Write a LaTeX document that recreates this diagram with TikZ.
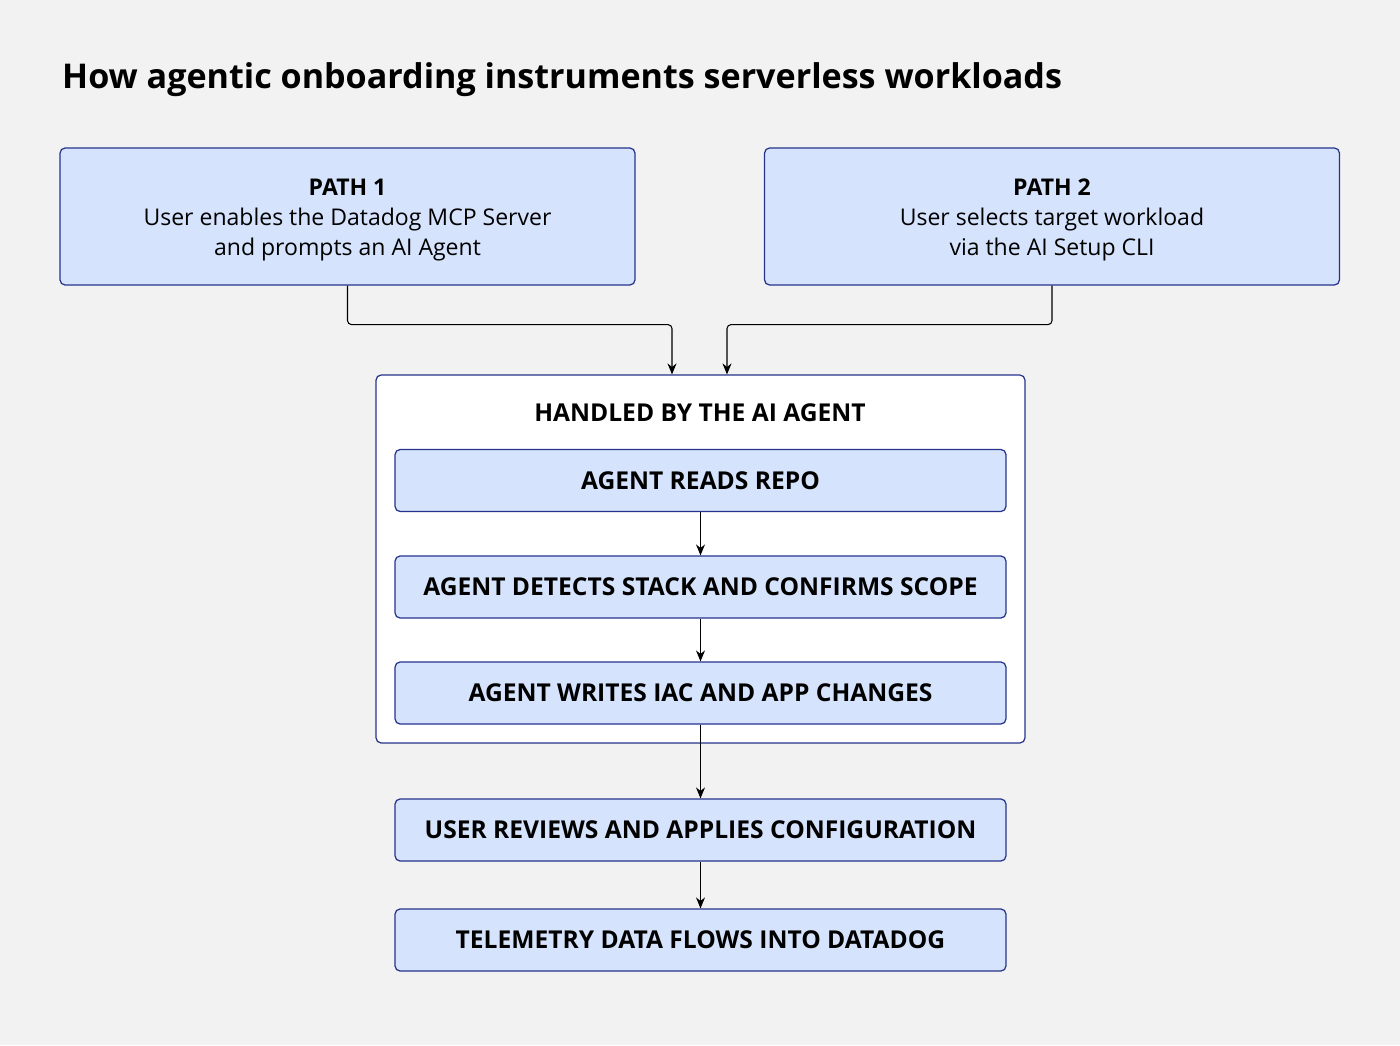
\documentclass[tikz,border=0pt]{standalone}
\usepackage{fontspec}
\setmainfont{Open Sans}
\usetikzlibrary{arrows.meta}
\definecolor{bgcol}{HTML}{F2F2F2}
\definecolor{boxfill}{HTML}{D6E3FC}
\definecolor{boxline}{HTML}{26338C}
\begin{document}
\begin{tikzpicture}[x=0.02cm, y=-0.02cm,
		stepbox/.style={draw=boxline, fill=boxfill, rounded corners=0.1cm, line width=0.7pt, minimum width=12.22cm, minimum height=1.24cm, font=\fontsize{14}{16}\selectfont\bfseries, inner sep=0pt},
		pathbox/.style={draw=boxline, fill=boxfill, rounded corners=0.1cm, line width=0.7pt, minimum width=11.5cm, minimum height=2.74cm, align=center, font=\fontsize{13.1}{17.3}\selectfont},
		flow/.style={-{Stealth[length=2.2mm, width=1.8mm]}, line width=0.6pt, black}
		]
		
		% ---- FONDO ----
		\fill[bgcol] (0,0) rectangle (1400,1045);
		\node[anchor=west, font=\fontsize{19.4}{22}\selectfont\bfseries] (title) at (56,80) {How agentic onboarding instruments serverless workloads};
		
		% ---- CAMINOS ----
		\node[pathbox] (p1) at (347.5,216.5) {};
		\node[align=center, font=\fontsize{13.1}{17.3}\selectfont] (t1) at (347.5,220) {\textbf{PATH 1}\\User enables the Datadog MCP Server\\and prompts an AI Agent};
		\node[pathbox] (p2) at (1052,216.5) {};
		\node[align=center, font=\fontsize{13.1}{17.3}\selectfont] (t2) at (1052,220) {\textbf{PATH 2}\\User selects target workload\\via the AI Setup CLI};
		
		% ---- AGENTE ----
		\node[draw=boxline, fill=white, rounded corners=0.1cm, line width=0.7pt, minimum width=12.98cm, minimum height=7.36cm] (agent) at (700.5,559) {};
		\node[font=\fontsize{14}{16}\selectfont\bfseries] (hdl) at (700,413) {HANDLED BY THE AI AGENT};
		\node[stepbox] (s1) at (700.5,480.5) {AGENT READS REPO};
		\node[stepbox] (s2) at (700.5,587) {AGENT DETECTS STACK AND CONFIRMS SCOPE};
		\node[stepbox] (s3) at (700.5,693) {AGENT WRITES IAC AND APP CHANGES};
		
		% ---- SALIDA ----
		\node[stepbox] (s4) at (700.5,830) {USER REVIEWS AND APPLIES CONFIGURATION};
		\node[stepbox] (s5) at (700.5,940) {TELEMETRY DATA FLOWS INTO DATADOG};
		
		% ---- FLECHAS ----
		\draw[flow, rounded corners=0.08cm] (p1.south) -- ++(0,39) -| ([xshift=-0.57cm]agent.north);
		\draw[flow, rounded corners=0.08cm] (p2.south) -- ++(0,39) -| ([xshift=0.53cm]agent.north);
		\draw[flow] (s1) -- (s2);
		\draw[flow] (s2) -- (s3);
		\draw[flow] (s3.south -| s4.north) -- (s4);
		\draw[flow] (s4) -- (s5);
		
	\end{tikzpicture}
\end{document}
